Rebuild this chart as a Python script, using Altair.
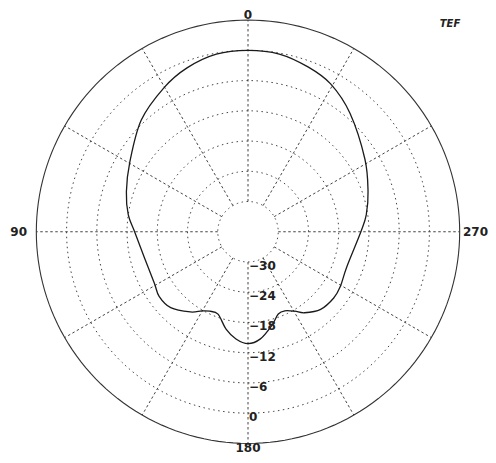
import altair as alt
import numpy as np
import pandas as pd

# Polar response (angle in degrees, counter-clockwise from top; level in dB)
angles = [0, 10.1, 20.4, 30.2, 43.7, 59.6, 71.8, 81.9, 90, 103.8, 118.8, 126,
          134.5, 144.3, 149.7, 154.3, 160, 167.3, 173.6, 180, 186.6, 194.2,
          200.2, 205, 210.5, 214.9, 223.1, 232.3, 239.3, 250.4, 270, 278.1,
          288.4, 301.8, 319.2, 330.8, 340, 350]
levels = [0, -0.2, -1.3, -2.9, -5.35, -8.8, -10.6, -12.0, -13.5, -14.8, -14.8,
          -14.2, -14.5, -16.4, -17.8, -18.5, -18.6, -16.2, -14.6, -13.8, -14.6,
          -16.8, -18.6, -18.7, -17.7, -16.4, -14.9, -14.5, -14.7, -15.2, -13.6,
          -12.3, -10.9, -8.7, -5.0, -2.4, -1.2, -0.2]

ring_db = [-30, -24, -18, -12, -6, 0]
ring_labels = ["\u221230", "\u221224", "\u221218", "\u221212", "\u22126", "\u20070"]
outer_db = 6
floor_db = -36
spoke_angles = list(range(0, 360, 30))
top_labels = ["0"]
bottom_labels = ["180"]
left_labels = ["90"]
right_labels = ["270"]

K = 5.04  # px per dB
CX, CY = 240, 223.75  # center in chart coords
W, H = 480, 447
xdom = [-CX / K, (W - CX) / K]
ydom = [-(H - CY) / K, CY / K]

xs = alt.Scale(domain=xdom, nice=False, zero=False)
ys = alt.Scale(domain=ydom, nice=False, zero=False)
X = alt.X("x:Q", scale=xs, axis=None)
Y = alt.Y("y:Q", scale=ys, axis=None)

def polar(r_expr, a_field="angle"):
    return dict(
        x=f"-({r_expr})*sin(datum.{a_field}*PI/180)",
        y=f"({r_expr})*cos(datum.{a_field}*PI/180)",
    )

curve_df = pd.DataFrame({"angle": angles, "db": levels, "i": range(len(angles))})

circle_ang = np.arange(0, 361, 2)
rings_df = pd.DataFrame(
    [{"ring": d, "angle": float(a)} for d in ring_db for a in circle_ang]
)
outer_df = pd.DataFrame({"ring": outer_db, "angle": circle_ang.astype(float)})
spokes_df = pd.DataFrame({"angle": spoke_angles})
rlab_df = pd.DataFrame({"db": ring_db, "label": ring_labels})

F = float(-floor_db)

rings = alt.Chart(rings_df).mark_line(
    stroke="#444", strokeWidth=1, strokeDash=[1.5, 3.5]
).transform_calculate(**polar(f"datum.ring+{F}")).encode(
    x=X, y=Y, detail="ring:N", order="angle:Q"
)

outer = alt.Chart(outer_df).mark_line(
    stroke="#333", strokeWidth=1.1
).transform_calculate(**polar(f"datum.ring+{F}")).encode(
    x=X, y=Y, order="angle:Q"
)

r0 = ring_db[0] + F
r1 = outer_db + F
spokes = alt.Chart(spokes_df).mark_rule(
    stroke="#444", strokeWidth=1, strokeDash=[2.5, 2.5]
).transform_calculate(
    x=f"-{r0}*sin(datum.angle*PI/180)",
    y=f"{r0}*cos(datum.angle*PI/180)",
    x2=f"-{r1}*sin(datum.angle*PI/180)",
    y2=f"{r1}*cos(datum.angle*PI/180)",
).encode(x=X, y=Y, x2="x2:Q", y2="y2:Q")

curve = alt.Chart(curve_df).mark_line(
    stroke="#1a1a1a", strokeWidth=1.3, interpolate="cardinal-closed"
).transform_calculate(**polar(f"datum.db+{F}")).encode(
    x=X, y=Y, order="i:Q"
)

font = dict(font="DejaVu Sans", fontWeight="bold", fontSize=12, fill="#222")

rlabels = alt.Chart(rlab_df).mark_text(
    align="left", baseline="middle", dx=1, dy=4, **font
).transform_calculate(x="0", y=f"-(datum.db+{F})").encode(
    x=X, y=Y, text="label:N"
)

def dir_layer(labels, xexpr, yexpr, align, baseline, dy=0):
    df = pd.DataFrame({"label": labels})
    return alt.Chart(df).mark_text(
        align=align, baseline=baseline, dy=dy, **font
    ).transform_calculate(x=xexpr, y=yexpr).encode(x=X, y=Y, text="label:N")

tlabels = dir_layer(top_labels, "0", str(ydom[1]), "center", "top", dy=2)
blabels = dir_layer(bottom_labels, "0", str(ydom[0]), "center", "bottom")
llabels = dir_layer(left_labels, str(-(CX - 19) / K), "0", "right", "middle")
rtlabels = dir_layer(right_labels, str(xdom[1]), "0", "right", "middle")

logo = alt.Chart(pd.DataFrame({"t": ["TEF"]})).mark_text(
    align="center", baseline="middle", font="DejaVu Sans", fontWeight="bold",
    fontStyle="italic", fontSize=10, fill="#222"
).encode(x=alt.value(442), y=alt.value(16), text="t:N")

chart = alt.layer(
    rings, spokes, outer, curve, rlabels, tlabels, blabels, llabels, rtlabels, logo
).properties(
    width=W, height=H, padding=0, autosize="none"
).configure_view(stroke=None)

chart.save("out.html", embed_options={"renderer": "svg", "actions": False})
